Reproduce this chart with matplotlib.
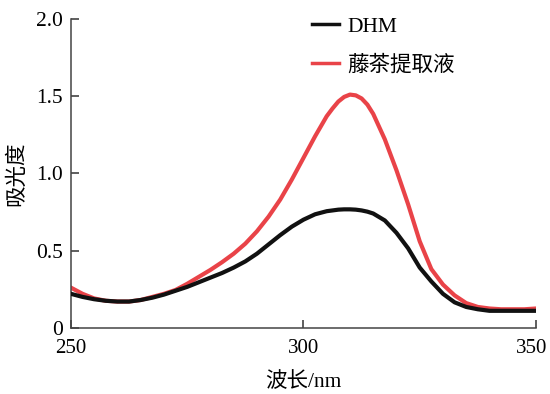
import numpy as np
import matplotlib
matplotlib.use('Agg')
import matplotlib.pyplot as plt
from matplotlib.transforms import ScaledTranslation

# wavelength (nm) and absorbance
wavelength = [250, 252.5, 255, 257.5, 260, 262.5, 265, 267.5, 270, 272.5,
              275, 277.5, 280, 282.5, 285, 287.5, 290, 292.5, 295, 297.5,
              300, 302.5, 305, 306.25, 307.5, 308.75, 310, 311.25, 312.5,
              313.75, 315, 317.5, 320, 322.5,
              325, 327.5, 330, 332.5, 335, 337.5, 340, 342.5, 345, 347.5, 350]
dhm = [0.22, 0.20, 0.185, 0.175, 0.17, 0.17, 0.18, 0.195, 0.215, 0.24,
       0.265, 0.295, 0.325, 0.355, 0.39, 0.43, 0.48, 0.54, 0.60, 0.655,
       0.70, 0.735, 0.755, 0.76, 0.765, 0.767, 0.767, 0.765, 0.76,
       0.752, 0.74, 0.695, 0.615, 0.515,
       0.39, 0.30, 0.22, 0.165, 0.135, 0.12, 0.11, 0.11, 0.11, 0.11, 0.11]
extract = [0.26, 0.22, 0.19, 0.175, 0.17, 0.17, 0.18, 0.20, 0.22, 0.245,
           0.285, 0.33, 0.375, 0.425, 0.48, 0.545, 0.625, 0.72, 0.83, 0.96,
           1.10, 1.24, 1.37, 1.42, 1.465, 1.495, 1.51, 1.505, 1.485,
           1.445, 1.385, 1.22, 1.02, 0.80,
           0.56, 0.38, 0.28, 0.21, 0.16, 0.135, 0.125, 0.12, 0.12, 0.12, 0.125]
labels = ['DHM', '藤茶提取液']
xticks = [250, 300, 350]
yticks = [0, 0.5, 1.0, 1.5, 2.0]
yticklabels = ['0', '0.5', '1.0', '1.5', '2.0']

plt.rcParams['font.family'] = ['Liberation Serif', 'Noto Sans CJK SC']
plt.rcParams['font.size'] = 15.5

fig = plt.figure(figsize=(5.5, 3.94), dpi=100)
ax = fig.add_axes([0.129, 0.168, 0.8455, 0.784])

ax.plot(wavelength, dhm, color='#111111', lw=3.0, label=labels[0],
        zorder=3, solid_joinstyle='round')
ax.plot(wavelength, extract, color='#e94348', lw=3.0, label=labels[1],
        zorder=2, solid_joinstyle='round')

ax.set_xlim(250, 350)
ax.set_ylim(0, 2.0)
ax.set_xticks(xticks)
ax.set_yticks(yticks)
ax.set_yticklabels(yticklabels)
ax.tick_params(direction='in', length=6, width=1.1, color='#333333', pad=6)
ax.tick_params(axis='x', labelsize=15, pad=8)

# nudge the last x label so it stays inside the picture
last = ax.get_xticklabels()[-1]
last.set_transform(last.get_transform() +
                   ScaledTranslation(-3 / 72, 0, fig.dpi_scale_trans))

for s in ['top', 'right']:
    ax.spines[s].set_visible(False)
for s in ['left', 'bottom']:
    ax.spines[s].set_color('#444444')
    ax.spines[s].set_linewidth(1.1)

ax.set_xlabel('波长/nm', fontsize=15.5, labelpad=10)
ax.set_ylabel('吸光度', fontsize=15.5, labelpad=6)

leg = ax.legend(loc='upper left', bbox_to_anchor=(0.477, 1.07), frameon=False,
                fontsize=15.5, handlelength=1.25, handletextpad=0.4,
                labelspacing=0.85)
for h in leg.get_lines():
    h.set_linewidth(2.5)

fig.savefig('out.png', dpi=100)
